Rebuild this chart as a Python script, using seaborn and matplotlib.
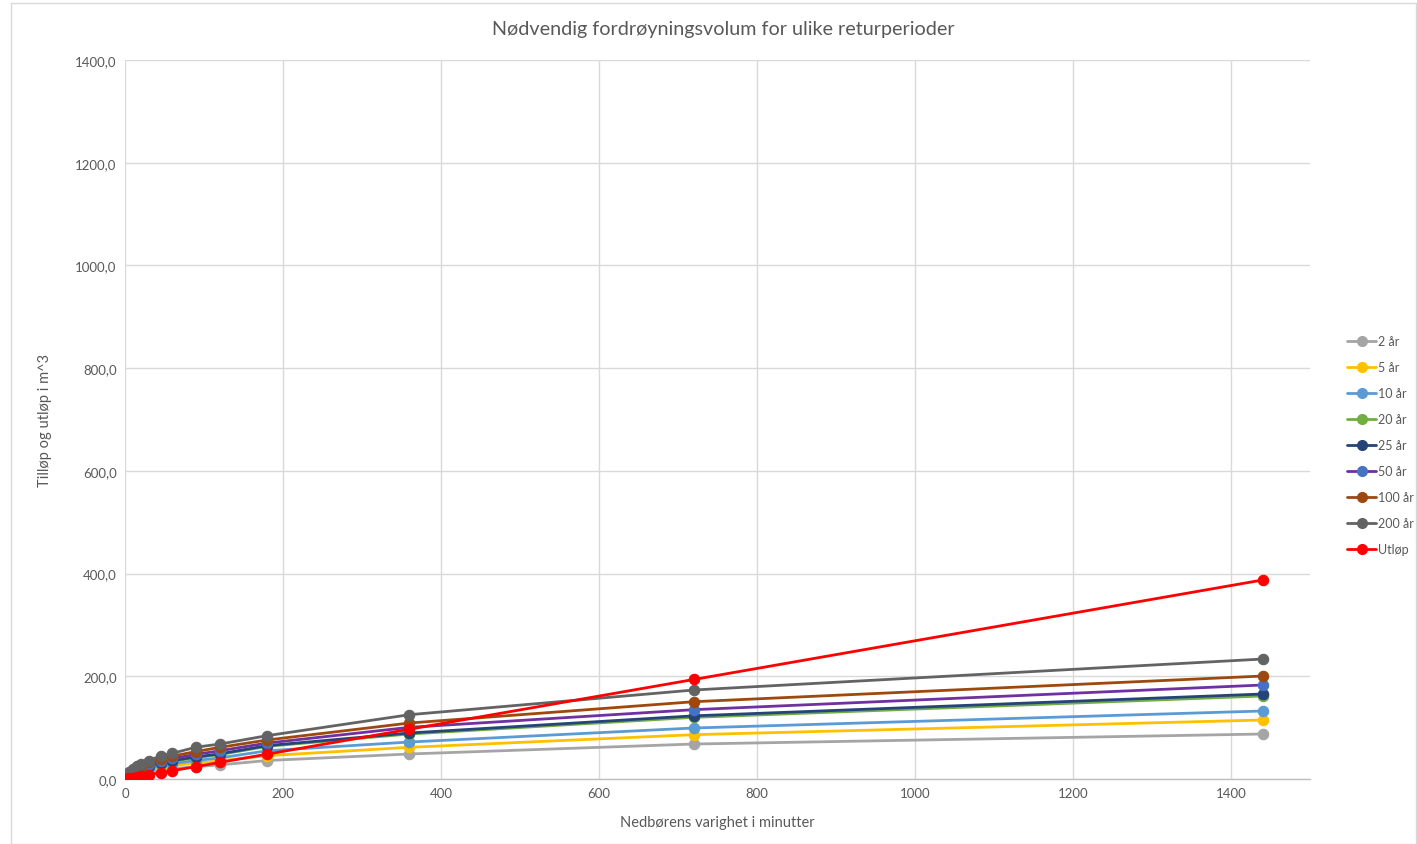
import matplotlib
matplotlib.use("Agg")
import matplotlib.pyplot as plt
import seaborn as sns
import pandas as pd
from matplotlib.lines import Line2D
from matplotlib.patches import Rectangle
from matplotlib.ticker import FuncFormatter, MultipleLocator

# ---- data ----
durations = [1, 2, 3, 5, 10, 15, 20, 30, 45, 60, 90, 120, 180, 360, 720, 1440]
series_names = ["2 år", "5 år", "10 år", "20 år", "25 år", "50 år", "100 år", "200 år", "Utløp"]
v_2 = [1.6, 2.8, 3.8, 5.4, 8.2, 10.2, 11.8, 14.5, 17.6, 20.0, 24.0, 27.5, 36.0, 48.7, 68.1, 87.6]
v_5 = [2.1, 3.6, 4.9, 7.0, 10.6, 13.2, 15.3, 18.8, 22.8, 26.0, 31.0, 35.5, 45.4, 61.7, 86.3, 114.9]
v_10 = [2.4, 4.2, 5.7, 8.1, 12.3, 15.3, 17.7, 21.8, 26.4, 30.0, 36.0, 41.0, 55.0, 72.0, 99.3, 132.4]
v_20 = [2.8, 4.8, 6.5, 9.3, 14.1, 17.6, 20.3, 25.0, 30.3, 34.5, 41.5, 47.5, 63.6, 87.6, 120.0, 161.6]
v_25 = [2.9, 5.0, 6.8, 9.7, 14.6, 18.2, 21.0, 25.9, 31.4, 35.8, 43.0, 49.0, 65.0, 89.6, 123.0, 165.5]
v_50 = [3.2, 5.6, 7.6, 10.8, 16.3, 20.3, 23.5, 29.0, 35.1, 40.0, 48.0, 55.0, 70.0, 100.6, 135.0, 183.0]
v_100 = [3.6, 6.2, 8.4, 12.0, 18.1, 22.6, 26.1, 32.2, 39.0, 44.5, 53.5, 61.6, 76.0, 109.0, 150.5, 200.5]
v_200 = [4.0, 6.9, 9.4, 13.4, 20.2, 25.2, 29.1, 36.0, 45.0, 50.0, 62.0, 68.0, 84.4, 125.2, 173.3, 233.6]
v_ut = [0.27, 0.54, 0.81, 1.35, 2.7, 4.0, 5.4, 8.1, 12.1, 16.1, 24.2, 32.3, 48.4, 96.9, 193.8, 387.5]
values = [v_2, v_5, v_10, v_20, v_25, v_50, v_100, v_200, v_ut]

title = "Nødvendig fordrøyningsvolum for ulike returperioder"
xlabel = "Nedbørens varighet i minutter"
ylabel = "Tilløp og utløp i m^3"

# ---- style ----
line_colors = ["#A5A5A5", "#FFC000", "#5B9BD5", "#70AD47", "#264478", "#7030A0", "#9E480E", "#636363", "#FF0000"]
marker_colors = ["#A5A5A5", "#FFC000", "#5B9BD5", "#70AD47", "#264478", "#4472C4", "#9E480E", "#636363", "#FF0000"]

sns.set_theme(style="white")
plt.rcParams["font.family"] = ["Lato", "DejaVu Sans"]
txt = "#595959"

fig = plt.figure(figsize=(14.17, 8.45), dpi=100)
fig.patches.append(Rectangle((11 / 1417, 0.0), 1 - 11 / 1417 - 0.0005, 1 - 4 / 845,
                             transform=fig.transFigure, fill=False,
                             edgecolor="#D9D9D9", linewidth=1.0))
ax = fig.add_axes([125 / 1417, 1 - 780 / 845, (1310 - 125) / 1417, (780 - 61) / 845])

rows = []
for name, vals in zip(series_names, values):
    for d, v in zip(durations, vals):
        rows.append({"Varighet": d, "Volum": v, "Serie": name})
df = pd.DataFrame(rows)

for i, name in enumerate(series_names):
    sub = df[df["Serie"] == name]
    sns.lineplot(data=sub, x="Varighet", y="Volum", ax=ax, color=line_colors[i],
                 linewidth=2.0, marker="o", markersize=7.5,
                 markerfacecolor=marker_colors[i], markeredgecolor=marker_colors[i],
                 markeredgewidth=0.8, zorder=3 + i, legend=False)

ax.set_xlim(0, 1500)
ax.set_ylim(0, 1400)
ax.yaxis.set_major_locator(MultipleLocator(200))
ax.set_xticks([0, 200, 400, 600, 800, 1000, 1200, 1400])
ax.yaxis.set_major_formatter(FuncFormatter(lambda v, p: f"{v:.1f}".replace(".", ",")))
ax.xaxis.set_major_formatter(FuncFormatter(lambda v, p: f"{int(v)}"))
ax.grid(True, color="#D9D9D9", linewidth=1.0)
ax.set_axisbelow(True)
for s in ["top", "right", "left"]:
    ax.spines[s].set_visible(False)
ax.spines["bottom"].set_color("#BFBFBF")
ax.spines["bottom"].set_linewidth(1.0)
ax.tick_params(axis="both", colors=txt, labelsize=9.5, length=0, pad=6)

ax.set_xlabel(xlabel, color=txt, fontsize=10.5, labelpad=11)
ax.set_ylabel(ylabel, color=txt, fontsize=10.5, labelpad=17)
fig.text(723 / 1417, 1 - 30 / 845, title, ha="center", va="center", color=txt, fontsize=14.2)

handles = [Line2D([0], [0], color=line_colors[i], linewidth=2.0, marker="o", markersize=7,
                  markerfacecolor=marker_colors[i], markeredgecolor=marker_colors[i])
           for i in range(len(series_names))]
leg = fig.legend(handles, series_names, loc="center left",
                 bbox_to_anchor=(1347 / 1417, 1 - 446 / 845), frameon=False,
                 fontsize=9, labelspacing=1.12, handlelength=2.35, handletextpad=0.1,
                 borderaxespad=0, borderpad=0)
for t in leg.get_texts():
    t.set_color(txt)

fig.savefig("out.png", dpi=100)
